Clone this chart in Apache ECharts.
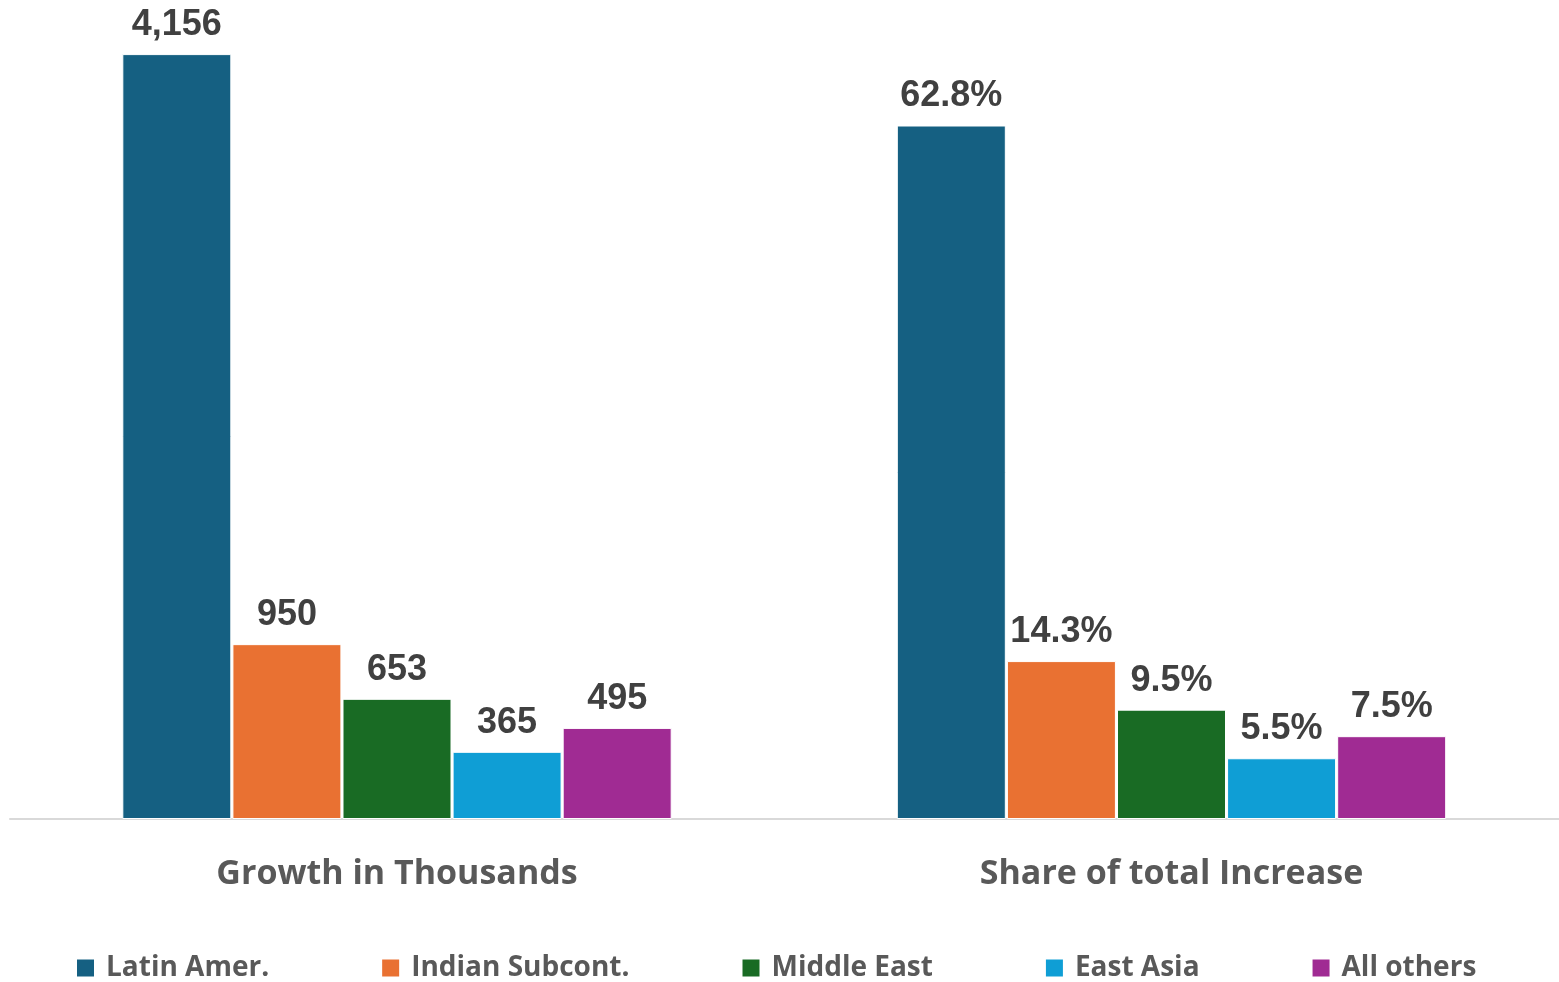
<!DOCTYPE html>
<html>
<head>
<meta charset="utf-8">
<script src="https://cdn.jsdelivr.net/npm/echarts@6/dist/echarts.min.js"></script>
<style>
html,body{margin:0;padding:0;background:#fff;}
#chart{width:1559px;height:982px;}
</style>
</head>
<body>
<div id="chart"></div>
<script>
const categories = ['Growth in Thousands', 'Share of total Increase'];
const seriesNames = ['Latin Amer.', 'Indian Subcont.', 'Middle East', 'East Asia', 'All others'];
const growthValues = [4156, 950, 653, 365, 495];
const shareValues = [62.8, 14.3, 9.9, 5.5, 7.5];
const shareLabels = ['62.8%', '14.3%', '9.5%', '5.5%', '7.5%'];
const colors = ['#156082', '#E97132', '#196B24', '#0F9ED5', '#A02B93'];

const chart = echarts.init(document.getElementById('chart'), null, {renderer: 'canvas'});

const labelStyle = {
  show: true,
  position: 'top',
  distance: 11,
  color: '#404040',
  fontFamily: 'Liberation Sans',
  fontWeight: 'bold',
  fontSize: 36
};

const series = [];
seriesNames.forEach((name, i) => {
  series.push({
    name: name,
    type: 'bar',
    xAxisIndex: 0,
    yAxisIndex: 0,
    barWidth: 109,
    barGap: '1%',
    data: [growthValues[i]],
    itemStyle: {color: colors[i], borderColor: '#ffffff', borderWidth: 1},
    label: Object.assign({}, labelStyle, {
      formatter: p => p.value.toLocaleString('en-US')
    }),
    emphasis: {disabled: true}
  });
});
seriesNames.forEach((name, i) => {
  series.push({
    name: name,
    type: 'bar',
    xAxisIndex: 1,
    yAxisIndex: 1,
    barWidth: 109,
    barGap: '1%',
    data: [shareValues[i]],
    itemStyle: {color: colors[i], borderColor: '#ffffff', borderWidth: 1},
    label: Object.assign({}, labelStyle, {
      formatter: () => shareLabels[i]
    }),
    emphasis: {disabled: true}
  });
});

const xAxisCommon = {
  type: 'category',
  axisTick: {show: false},
  axisLine: {show: true, lineStyle: {color: '#d9d9d9', width: 2}},
  axisLabel: {
    color: '#595959',
    fontFamily: 'Open Sans',
    fontWeight: 'bold',
    fontSize: 34,
    margin: 38
  }
};

chart.setOption({
  animation: false,
  backgroundColor: '#ffffff',
  grid: [
    {left: 10, width: 774, top: 46, bottom: 163, containLabel: false},
    {left: 784, right: 0, top: 46, bottom: 163, containLabel: false}
  ],
  xAxis: [
    Object.assign({}, xAxisCommon, {gridIndex: 0, data: [categories[0]]}),
    Object.assign({}, xAxisCommon, {gridIndex: 1, data: [categories[1]]})
  ],
  yAxis: [
    {type: 'value', gridIndex: 0, min: 0, max: 4200, show: false, splitLine: {show: false}},
    {type: 'value', gridIndex: 1, min: 0, max: 70, show: false, splitLine: {show: false}}
  ],
  legend: {
    data: seriesNames,
    left: 70,
    top: 949,
    itemWidth: 19,
    itemHeight: 19,
    itemGap: 111,
    icon: 'rect',
    textStyle: {
      color: '#595959',
      fontFamily: 'Open Sans',
      fontWeight: 'bold',
      fontSize: 28,
      padding: [0, 0, 0, 6]
    }
  },
  series: series
});
</script>
</body>
</html>
